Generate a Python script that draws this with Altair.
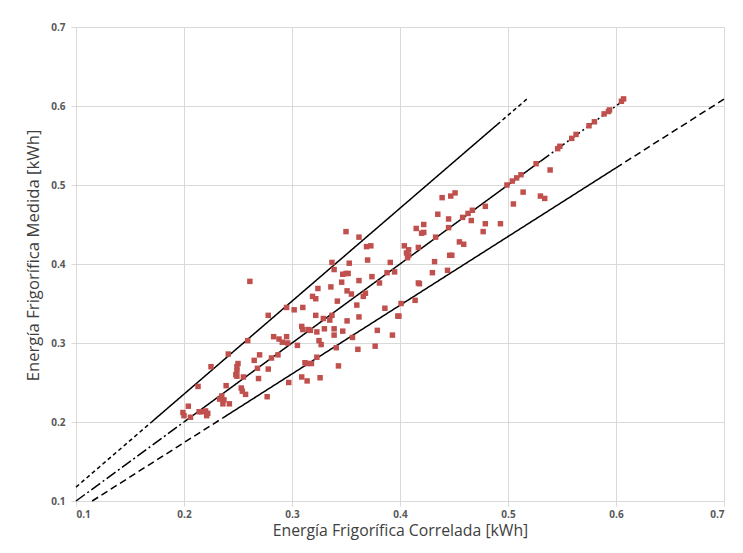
import altair as alt
import pandas as pd

# Measured points (Energía correlada, Energía medida) [kWh]
corr = [0.261, 0.278, 0.295, 0.302, 0.259, 0.283, 0.288, 0.291, 0.295, 0.296,
        0.305, 0.241, 0.270, 0.265, 0.287, 0.281, 0.278, 0.268, 0.250, 0.249,
        0.249, 0.248, 0.249, 0.225, 0.255, 0.269, 0.297, 0.213, 0.239, 0.253,
        0.254, 0.257, 0.277, 0.235, 0.233, 0.237, 0.236, 0.242, 0.204, 0.199,
        0.200, 0.206, 0.214, 0.216, 0.220, 0.222, 0.221,
        0.350, 0.362, 0.369, 0.373, 0.337, 0.353, 0.370, 0.391, 0.339, 0.347,
        0.350, 0.352, 0.362, 0.374, 0.388, 0.395, 0.346, 0.381, 0.324, 0.336,
        0.351, 0.355, 0.368, 0.366, 0.319, 0.322, 0.342, 0.360, 0.386, 0.310,
        0.322, 0.329, 0.335, 0.337, 0.351, 0.362, 0.398, 0.399, 0.309, 0.310,
        0.315, 0.317, 0.323, 0.330, 0.339, 0.339, 0.347, 0.356, 0.379, 0.393,
        0.325, 0.327, 0.341, 0.361, 0.377, 0.323, 0.312, 0.314, 0.318, 0.343,
        0.309, 0.314, 0.326,
        0.439, 0.447, 0.451, 0.435, 0.445, 0.458, 0.463, 0.467, 0.466, 0.479,
        0.493, 0.477, 0.422, 0.415, 0.445, 0.420, 0.422, 0.433, 0.455, 0.459,
        0.404, 0.408, 0.406, 0.408, 0.407, 0.417, 0.446, 0.448, 0.432, 0.430,
        0.444, 0.417, 0.418, 0.401, 0.414,
        0.607, 0.605, 0.594, 0.593, 0.589, 0.580, 0.575, 0.563, 0.559, 0.548,
        0.546, 0.526, 0.539, 0.512, 0.508, 0.504, 0.499, 0.514, 0.530, 0.534,
        0.505, 0.479]
meas = [0.378, 0.335, 0.345, 0.342, 0.303, 0.308, 0.305, 0.301, 0.308, 0.300,
        0.297, 0.286, 0.285, 0.278, 0.285, 0.281, 0.267, 0.268, 0.274, 0.270,
        0.265, 0.260, 0.258, 0.270, 0.257, 0.255, 0.250, 0.245, 0.246, 0.243,
        0.239, 0.235, 0.232, 0.233, 0.229, 0.228, 0.223, 0.223, 0.220, 0.212,
        0.208, 0.206, 0.213, 0.213, 0.214, 0.211, 0.208,
        0.441, 0.434, 0.422, 0.423, 0.402, 0.401, 0.405, 0.402, 0.393, 0.387,
        0.388, 0.388, 0.379, 0.384, 0.389, 0.390, 0.377, 0.376, 0.369, 0.371,
        0.366, 0.362, 0.363, 0.359, 0.359, 0.356, 0.353, 0.348, 0.344, 0.345,
        0.335, 0.331, 0.329, 0.335, 0.328, 0.333, 0.334, 0.334, 0.321, 0.317,
        0.317, 0.316, 0.314, 0.318, 0.318, 0.310, 0.315, 0.307, 0.316, 0.310,
        0.303, 0.298, 0.294, 0.292, 0.296, 0.282, 0.275, 0.274, 0.274, 0.271,
        0.257, 0.252, 0.256,
        0.484, 0.486, 0.490, 0.463, 0.457, 0.459, 0.464, 0.468, 0.455, 0.451,
        0.451, 0.441, 0.450, 0.445, 0.446, 0.439, 0.440, 0.434, 0.428, 0.425,
        0.423, 0.418, 0.414, 0.411, 0.408, 0.421, 0.411, 0.411, 0.403, 0.389,
        0.392, 0.376, 0.375, 0.350, 0.354,
        0.609, 0.606, 0.595, 0.593, 0.590, 0.580, 0.575, 0.564, 0.559, 0.549,
        0.546, 0.527, 0.519, 0.513, 0.509, 0.505, 0.500, 0.491, 0.486, 0.483,
        0.476, 0.473]

# Reference line segments (+15 %, 1:1, -15 %) with their drawing style
seg_x1 = [0.100, 0.170, 0.490, 0.100, 0.200, 0.530, 0.115, 0.236, 0.600]
seg_y1 = [0.1176, 0.200, 0.5765, 0.100, 0.200, 0.530, 0.100, 0.2052, 0.5217]
seg_x2 = [0.170, 0.490, 0.519, 0.200, 0.530, 0.610, 0.236, 0.600, 0.700]
seg_y2 = [0.200, 0.5765, 0.6106, 0.200, 0.530, 0.610, 0.2052, 0.5217, 0.6087]
seg_style = ["thin dashed", "thin solid", "thin dashed",
             "dash dot", "solid", "dash dot",
             "dashed", "solid", "dashed"]

ticks = [0.1, 0.2, 0.3, 0.4, 0.5, 0.6, 0.7]

pts = pd.DataFrame({"x": corr, "y": meas})
segs = pd.DataFrame({"x1": seg_x1, "y1": seg_y1, "x2": seg_x2, "y2": seg_y2,
                     "style": seg_style})

font = "Open Sans"
xscale = alt.Scale(domain=[0.1, 0.7], nice=False, zero=False)
yscale = alt.Scale(domain=[0.1, 0.7], nice=False, zero=False)

xaxis = alt.Axis(values=ticks, format=".1f", title="Energía Frigorífica Correlada [kWh]",
                 grid=True, gridColor="#d9d9d9", domainColor="#d9d9d9", tickColor="#d9d9d9",
                 tickSize=5, labelPadding=3, labelFontSize=10, labelFontWeight="bold",
                 labelColor="#595959", labelFont=font, titleFont=font, titleFontSize=15.8,
                 titleFontWeight="normal", titleColor="#404040", titlePadding=4)
yaxis = alt.Axis(values=ticks, format=".1f", title="Energía Frigorífica Medida [kWh]",
                 grid=True, gridColor="#d9d9d9", domainColor="#d9d9d9", tickColor="#d9d9d9",
                 tickSize=5, labelPadding=6, labelFontSize=10, labelFontWeight="bold",
                 labelColor="#595959", labelFont=font, titleFont=font, titleFontSize=16.7,
                 titleFontWeight="normal", titleColor="#404040", titlePadding=8,
                 titleY=228)

lines = alt.Chart(segs).mark_rule(color="black").encode(
    x=alt.X("x1:Q", scale=xscale, axis=xaxis),
    y=alt.Y("y1:Q", scale=yscale, axis=yaxis),
    x2="x2:Q",
    y2="y2:Q",
    strokeDash=alt.StrokeDash("style:N", legend=None, scale=alt.Scale(
        domain=["thin dashed", "thin solid", "dash dot", "solid", "dashed"],
        range=[[4, 3], [1, 0], [11, 3, 2, 3], [1, 0], [7, 4]])),
    strokeWidth=alt.StrokeWidth("style:N", legend=None, scale=alt.Scale(
        domain=["thin dashed", "thin solid", "dash dot", "solid", "dashed"],
        range=[1.5, 1.5, 2.2, 2.4, 2.4])),
)

points = alt.Chart(pts).mark_square(size=30, color="#C0504D", opacity=1).encode(
    x=alt.X("x:Q", scale=xscale),
    y=alt.Y("y:Q", scale=yscale),
)

chart = alt.layer(lines, points).properties(
    width=648, height=474,
    autosize=alt.AutoSizeParams(type="none"),
    padding={"left": 68, "top": 19, "right": 11, "bottom": 44},
).configure_view(stroke=None).configure(background="white")

chart.save("out.html", embed_options={"renderer": "svg", "actions": False})
